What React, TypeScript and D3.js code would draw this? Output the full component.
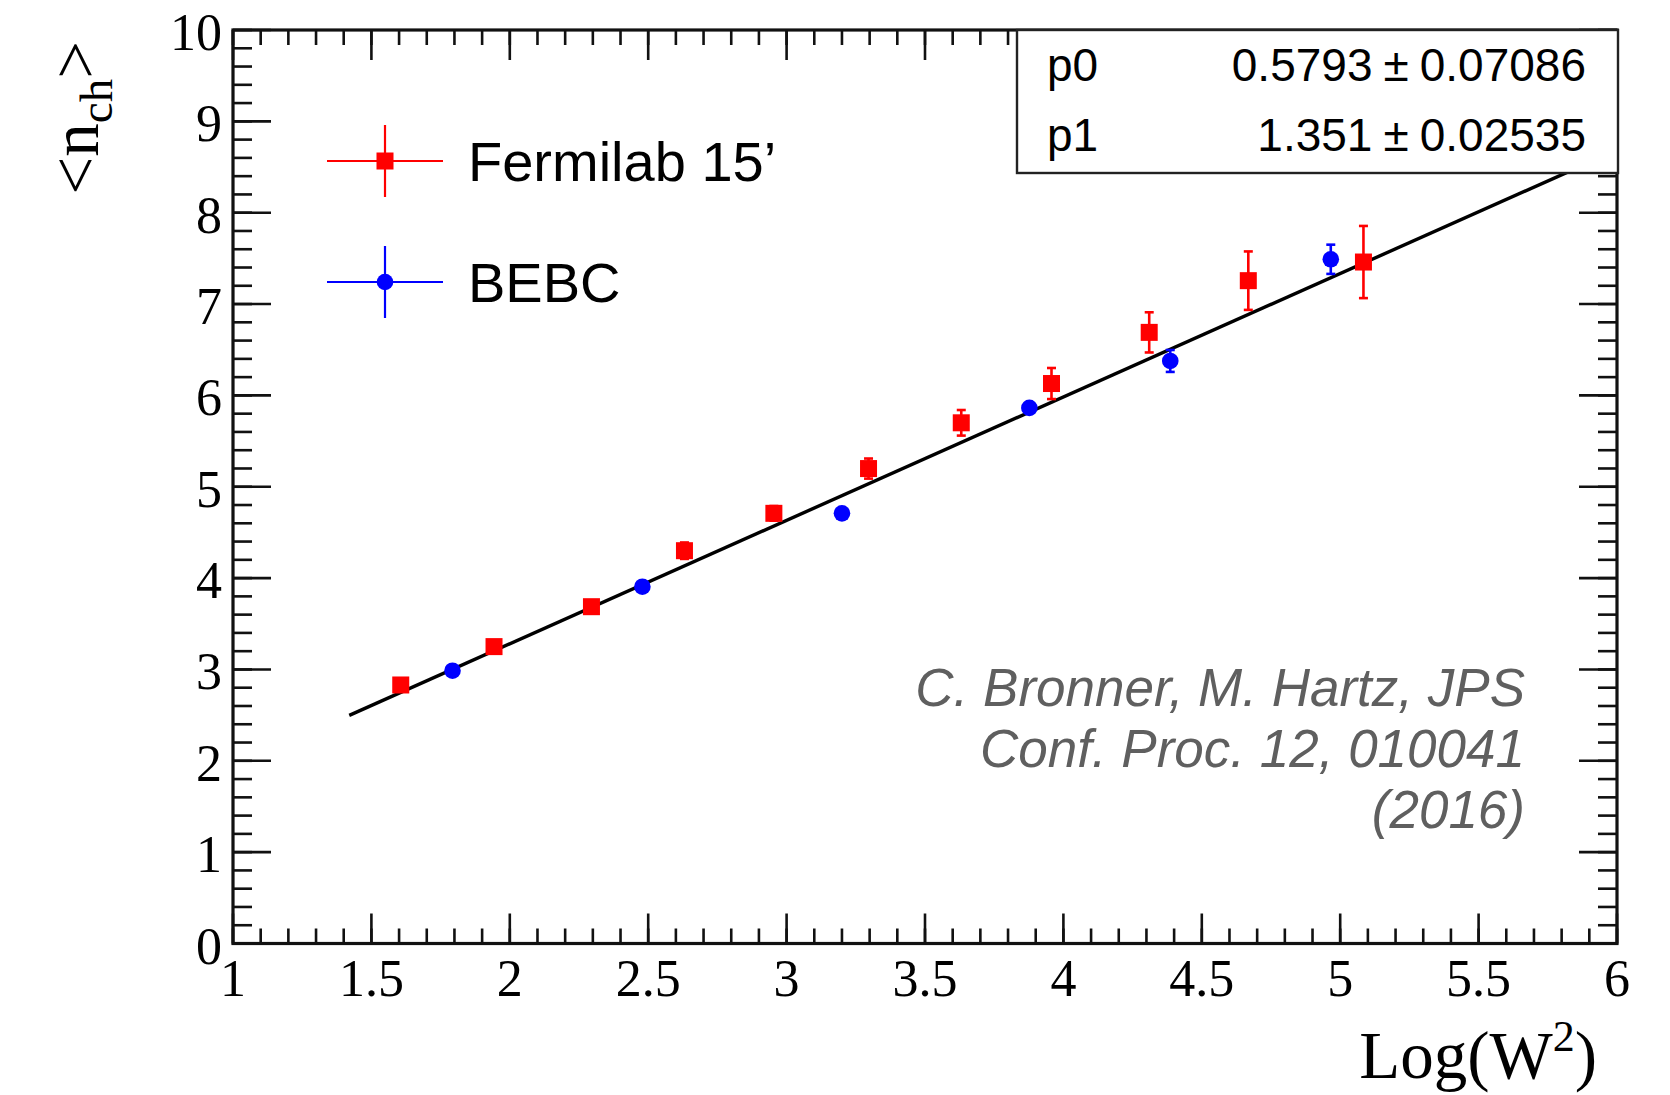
import React from "react";
import * as d3 from "d3";

const fermiX = [1.606, 1.943, 2.295, 2.631, 2.954, 3.296, 3.631, 3.957, 4.31, 4.668, 5.084];
const fermiY = [2.83, 3.25, 3.687, 4.3, 4.709, 5.199, 5.7, 6.13, 6.69, 7.256, 7.46];
const fermiErr = [0.05, 0.06, 0.05, 0.09, 0.08, 0.11, 0.14, 0.17, 0.22, 0.32, 0.395];

const bebcX = [1.793, 2.479, 3.2, 3.877, 4.386, 4.966];
const bebcY = [2.986, 3.906, 4.709, 5.863, 6.377, 7.49];
const bebcErr = [0.03, 0.03, 0.03, 0.04, 0.12, 0.16];

const fitP0 = 0.5793;
const fitP1 = 1.351;
const fitRange = [1.42, 6];

const xTickLabels = ["1", "1.5", "2", "2.5", "3", "3.5", "4", "4.5", "5", "5.5", "6"];
const yTickLabels = ["0", "1", "2", "3", "4", "5", "6", "7", "8", "9", "10"];

const statsRows = [
  { name: "p0", value: "0.5793", err: "0.07086" },
  { name: "p1", value: "1.351", err: "0.02535" },
];

const legendItems = ["Fermilab 15\u2019", "BEBC"];
const creditLines = ["C. Bronner, M. Hartz, JPS", "Conf. Proc. 12, 010041", "(2016)"];

const SERIF = "'Liberation Serif', 'Times New Roman', serif";
const SANS = "'Liberation Sans', Arial, Helvetica, sans-serif";

export default function App() {
  const W = 1670, H = 1095;
  const L = 233, R = 1617, T = 30, B = 943.5;
  const x = d3.scaleLinear().domain([1, 6]).range([L, R]);
  const y = d3.scaleLinear().domain([0, 10]).range([B, T]);

  const xMajor = d3.range(0, 11).map((i) => 1 + i * 0.5);
  const xMinor = d3.range(0, 51).map((i) => 1 + i * 0.1);
  const yMajor = d3.range(0, 11);
  const yMinor = d3.range(0, 51).map((i) => i * 0.2);

  const xMajLen = 30, xMinLen = 15, yMajLen = 38, yMinLen = 19;
  const axisColor = "#111";

  const fitLine = d3.line<number>().x((d) => x(d)).y((d) => y(fitP0 + fitP1 * d));

  const sq = 17;
  const cr = 8.3;
  const cap = 9;

  const errBar = (cx: number, cy: number, e: number, color: string, key: string) => {
    const y1 = y(cy + e), y2 = y(cy - e);
    const px = x(cx);
    return (
      <g key={key} stroke={color} strokeWidth={2.6}>
        <line x1={px} x2={px} y1={y1} y2={y2} />
        <line x1={px - cap / 2} x2={px + cap / 2} y1={y1} y2={y1} />
        <line x1={px - cap / 2} x2={px + cap / 2} y1={y2} y2={y2} />
      </g>
    );
  };

  return (
    <svg
      width={W}
      height={H}
      viewBox={`0 0 ${W} ${H}`}
      style={{ position: "absolute", left: 0, top: 0, background: "#fff" }}
    >
      <rect x={0} y={0} width={W} height={H} fill="#fff" />

      {/* fit line */}
      <path d={fitLine(fitRange) || ""} stroke="#000" strokeWidth={3.4} fill="none" />

      {/* error bars */}
      {fermiX.map((d, i) => errBar(d, fermiY[i], fermiErr[i], "#ff0000", "fe" + i))}
      {bebcX.map((d, i) => errBar(d, bebcY[i], bebcErr[i], "#0000ff", "be" + i))}

      {/* markers */}
      {fermiX.map((d, i) => (
        <rect key={"fm" + i} x={x(d) - sq / 2} y={y(fermiY[i]) - sq / 2} width={sq} height={sq} fill="#ff0000" />
      ))}
      {bebcX.map((d, i) => (
        <circle key={"bm" + i} cx={x(d)} cy={y(bebcY[i])} r={cr} fill="#0000ff" />
      ))}

      {/* ticks */}
      <g stroke={axisColor} strokeWidth={2.6}>
        {xMinor.map((v, i) => (
          <g key={"xm" + i}>
            <line x1={x(v)} x2={x(v)} y1={B} y2={B - xMinLen} />
            <line x1={x(v)} x2={x(v)} y1={T} y2={T + xMinLen} />
          </g>
        ))}
        {xMajor.map((v, i) => (
          <g key={"xM" + i}>
            <line x1={x(v)} x2={x(v)} y1={B} y2={B - xMajLen} />
            <line x1={x(v)} x2={x(v)} y1={T} y2={T + xMajLen} />
          </g>
        ))}
        {yMinor.map((v, i) => (
          <g key={"ym" + i}>
            <line x1={L} x2={L + yMinLen} y1={y(v)} y2={y(v)} />
            <line x1={R} x2={R - yMinLen} y1={y(v)} y2={y(v)} />
          </g>
        ))}
        {yMajor.map((v, i) => (
          <g key={"yM" + i}>
            <line x1={L} x2={L + yMajLen} y1={y(v)} y2={y(v)} />
            <line x1={R} x2={R - yMajLen} y1={y(v)} y2={y(v)} />
          </g>
        ))}
      </g>

      {/* frame */}
      <rect x={L} y={T} width={R - L} height={B - T} fill="none" stroke={axisColor} strokeWidth={3.2} />

      {/* tick labels */}
      <g fontFamily={SERIF} fontSize={52} fill="#000">
        {xMajor.map((v, i) => (
          <text key={"xl" + i} x={x(v)} y={996} textAnchor="middle">
            {xTickLabels[i]}
          </text>
        ))}
        {yMajor.map((v, i) => (
          <text key={"yl" + i} x={222} y={y(v) + 20} textAnchor="end">
            {yTickLabels[i]}
          </text>
        ))}
      </g>

      {/* axis titles */}
      <text x={1597} y={1078} textAnchor="end" fontFamily={SERIF} fontSize={67} fill="#000">
        Log(W<tspan dy={-27} fontSize={44}>2</tspan><tspan dy={27}>)</tspan>
      </text>
      <text
        transform="translate(98,41) rotate(-90)"
        textAnchor="end"
        fontFamily={SERIF}
        fontSize={67}
        fill="#000"
      >
        &lt;n<tspan dy={14} fontSize={47}>ch</tspan><tspan dy={-14}>&gt;</tspan>
      </text>

      {/* legend */}
      <g>
        {legendItems.map((lab, i) => {
          const ly = i === 0 ? 161 : 282;
          const col = i === 0 ? "#ff0000" : "#0000ff";
          return (
            <g key={"lg" + i}>
              <line x1={327} x2={443} y1={ly} y2={ly} stroke={col} strokeWidth={2.2} />
              <line x1={385} x2={385} y1={ly - 36} y2={ly + 36} stroke={col} strokeWidth={2.2} />
              {i === 0 ? (
                <rect x={385 - sq / 2} y={ly - sq / 2} width={sq} height={sq} fill={col} />
              ) : (
                <circle cx={385} cy={ly} r={cr} fill={col} />
              )}
              <text x={468} y={ly + 20} fontFamily={SANS} fontSize={56} fill="#000">
                {lab}
              </text>
            </g>
          );
        })}
      </g>

      {/* stats box */}
      <rect x={1017} y={30} width={601} height={143} fill="#fff" stroke="#222" strokeWidth={2.4} />
      {statsRows.map((r, i) => {
        const by = i === 0 ? 81 : 151;
        return (
          <g key={"st" + i} fontFamily={SANS} fontSize={46} fill="#000">
            <text x={1047} y={by}>{r.name}</text>
            <text x={1586} y={by} textAnchor="end">
              {r.value}
              <tspan dx={11}>±</tspan>
              <tspan dx={11}>{r.err}</tspan>
            </text>
          </g>
        );
      })}

      {/* credit */}
      <g fontFamily={SANS} fontStyle="italic" fontSize={53} fill="#5f5f5f">
        {creditLines.map((t, i) => (
          <text key={"cr" + i} x={1525} y={706 + i * 61} textAnchor="end">
            {t}
          </text>
        ))}
      </g>
    </svg>
  );
}
